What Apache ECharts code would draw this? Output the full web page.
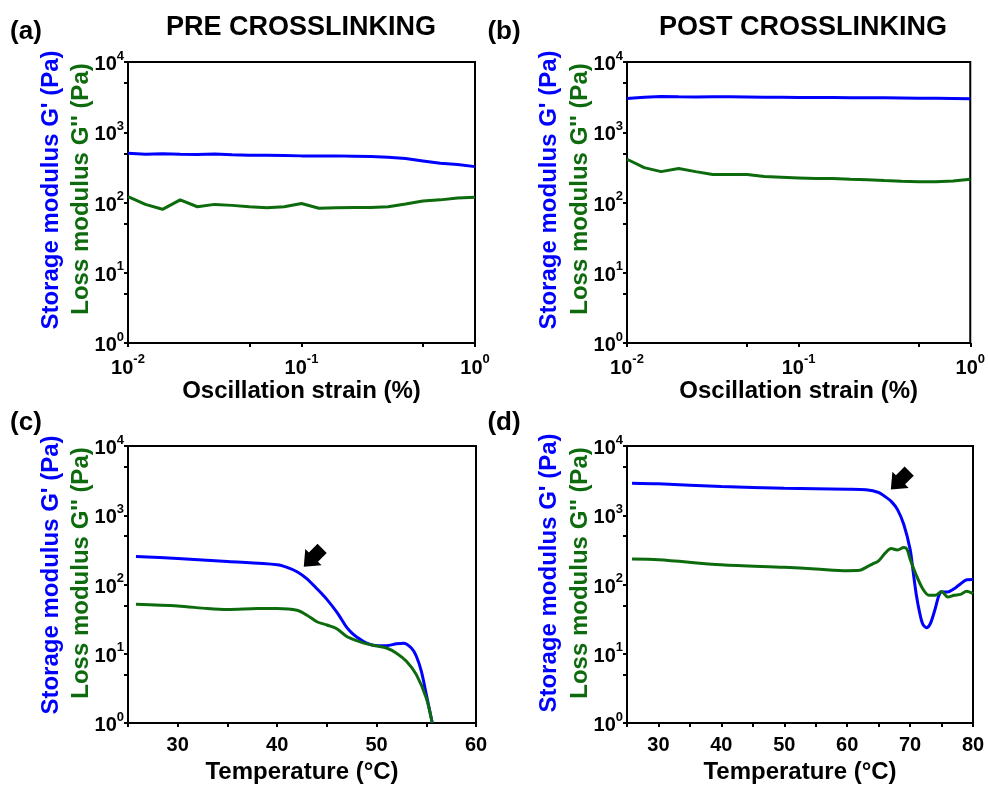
<!DOCTYPE html>
<html><head><meta charset="utf-8">
<script src="https://cdn.jsdelivr.net/npm/echarts@6/dist/echarts.min.js"></script>
<style>html,body{margin:0;padding:0;background:#fff}#c{width:988px;height:785px}</style>
</head><body><div id="c"></div>
<script>
// ---- data ----
const strain = [0.01,0.0126,0.0158,0.02,0.0251,0.0316,0.0398,0.0501,0.0631,0.0794,0.1,0.126,0.158,0.2,0.251,0.316,0.398,0.501,0.631,0.794,1];
const preStorage = [503,486,495,486,482,490,477,471,471,466,461,461,461,456,451,441,422,391,362,347,324];
const preLoss = [121,94,80,109,87,94,91,87,84,87,97,83,84,85,85,87,95,105,109,116,119];
const postStorage = [3030,3150,3240,3200,3180,3200,3200,3180,3150,3140,3130,3120,3120,3110,3100,3100,3080,3060,3040,3020,3000];
const postLoss = [413,314,275,304,275,250,250,250,234,229,224,219,219,214,210,205,201,198,198,203,214];

const preTempG1 = [25.8,30,35,40,41,42,43,44,45,46,46.5,47,47.5,48,49,50,51,52,52.7,53.5,54,54.5,55,55.6];
const preStorageT = [254,238,215,193,177,153,121,87,61,40,31,24,20,17.5,14.2,13.1,13.1,13.9,14.2,12.1,9.2,5.6,2.6,1.0];
const preTempG2 = [25.8,30,33,35,38,40,42,43,44,45,46,47,48,49,50,51,52,53,54,55,55.6];
const preLossT = [51.8,49,44.9,43.5,44.9,45,42.5,36,29,26,23,17.7,15.5,13.9,13,12.1,10.2,7.8,5,2.3,1.0];

const postTempG1 = [25.8,30,40,50,60,63,65,66,67,68,69,70,70.5,71,71.5,72,72.6,73.2,74,74.5,75,76,77,78,79,80];
const postStorageT = [2897,2840,2596,2455,2377,2330,2131,1868,1585,1205,736,324,150,70,40,27,23.8,27,45,66,78,78,87,102,117,118];
const postTempG2 = [25.8,30,40,50,55,60,62,63,64,65,66,67,68,69,69.5,70,71,72,73,74,75,76,77,78,79,80];
const postLossT = [233,228,193,177,168,158,160,177,197,220,281,330,316,341,324,233,135,87,70,70,79,66,70,72,80,74];

const yTicks = [1,5,10,50,100,500,1000,5000,10000];
const yLabels = [1,10,100,1000,10000];
const strainTicks = [0.01,0.05,0.1,0.5,1];
const strainLabels = [0.01,0.1,1];
const arrowPre = [43.6, 245];
const arrowPost = [68.4, 3200];

const titles = ['PRE CROSSLINKING','POST CROSSLINKING'];
const panelTags = ['(a)','(b)','(c)','(d)'];
const storageName = "Storage modulus G' (Pa)";
const lossName = "Loss modulus G'' (Pa)";
const strainName = 'Oscillation strain (%)';
const tempName = 'Temperature (°C)';

// ---- styling ----
const FONT = 'Liberation Sans, Arial, sans-serif';
const BLUE = '#0000ff';
const GREEN = '#0d6b0d';
const supRich = {
  b:{fontSize:20,fontWeight:'bold',fontFamily:FONT,color:'#000',lineHeight:25,verticalAlign:'bottom'},
  s:{fontSize:13,fontWeight:'bold',fontFamily:FONT,color:'#000',lineHeight:14,verticalAlign:'top'}
};
const powFmt = v => '{b|10}{s|' + Math.round(Math.log10(v)) + '}';

const grids = [
  {left:128, top:62, width:347, height:281},
  {left:627, top:62, width:346, height:281},
  {left:128, top:446, width:348, height:280},
  {left:627, top:446, width:346, height:280}
].map(g => Object.assign(g, {show:true, borderColor:'#000', borderWidth:2, containLabel:false}));

const axisLineS = {show:true, lineStyle:{color:'#000', width:2}};
const nameStyle = {fontSize:24, fontWeight:'bold', fontFamily:FONT, color:'#000'};

function yAx(i){
  return {type:'log', logBase:10, gridIndex:i, min:1, max:10000,
    axisLine:axisLineS, splitLine:{show:false},
    axisTick:{show:true, inside:false, length:4, lineStyle:{width:2,color:'#000'}, customValues:yTicks},
    axisLabel:{margin:4, formatter:powFmt, rich:supRich, customValues:yLabels}};
}
function xStrain(i){
  return {type:'log', logBase:10, gridIndex:i, min:0.01, max:1,
    axisLine:axisLineS, splitLine:{show:false},
    axisTick:{show:true, length:4, lineStyle:{width:2,color:'#000'}, customValues:strainTicks},
    axisLabel:{margin:10, formatter:powFmt, rich:supRich, customValues:strainLabels},
    name:strainName, nameLocation:'middle', nameGap:34, nameTextStyle:nameStyle};
}
function xTemp(i, max){
  return {type:'value', gridIndex:i, min:25, max:max, interval:5,
    axisLine:axisLineS, splitLine:{show:false},
    axisTick:{show:true, length:4, lineStyle:{width:2,color:'#000'}},
    axisLabel:{margin:12, fontSize:20, fontWeight:'bold', fontFamily:FONT, color:'#000',
      formatter: v => (v % 10 === 0 ? String(v) : '')},
    name:tempName, nameLocation:'middle', nameGap:37, nameTextStyle:nameStyle};
}
const pairs = (xs, ys) => xs.map((x, k) => [x, ys[k]]);
function line(i, data, color, smooth){
  return {type:'line', xAxisIndex:i, yAxisIndex:i, data:data, showSymbol:false, symbol:'none',
    smooth:smooth, lineStyle:{color:color, width:3}, itemStyle:{color:color}, animation:false, z:3};
}
const arrowPath = 'path://M8,0 L16,10 L12.5,10 L12.5,19 L3.5,19 L3.5,10 L0,10 Z';
function arrowMark(coord){
  return {symbol:arrowPath, symbolSize:[23,26], symbolRotate:135, symbolOffset:[0,0],
    itemStyle:{color:'#000'}, label:{show:false}, animation:false, data:[{coord:coord}]};
}

const series = [
  line(0, pairs(strain, preStorage), BLUE, false),
  line(0, pairs(strain, preLoss), GREEN, false),
  line(1, pairs(strain, postStorage), BLUE, false),
  line(1, pairs(strain, postLoss), GREEN, false),
  Object.assign(line(2, pairs(preTempG1, preStorageT), BLUE, 0.3), {markPoint:arrowMark(arrowPre)}),
  line(2, pairs(preTempG2, preLossT), GREEN, 0.3),
  Object.assign(line(3, pairs(postTempG1, postStorageT), BLUE, 0.3), {markPoint:arrowMark(arrowPost)}),
  line(3, pairs(postTempG2, postLossT), GREEN, 0.3)
];

// ---- text ----
const txt = (text, x, y, size, color, rot) => ({type:'text', x:x, y:y, rotation:rot||0,
  style:{text:text, fill:color, font:'bold ' + size + 'px ' + FONT, textAlign:'center', textVerticalAlign:'middle'}});
const graphic = [
  txt(titles[0], 301, 28, 27, '#000'),
  txt(titles[1], 803, 28, 27, '#000'),
  txt(panelTags[0], 26, 32, 26, '#000'),
  txt(panelTags[1], 504, 32, 26, '#000'),
  txt(panelTags[2], 26, 423, 26, '#000'),
  txt(panelTags[3], 504, 423, 26, '#000'),
  txt(storageName, 51, 190, 24, BLUE, Math.PI/2),
  txt(lossName, 81, 189, 24, GREEN, Math.PI/2),
  txt(storageName, 549, 190, 24, BLUE, Math.PI/2),
  txt(lossName, 580, 189, 24, GREEN, Math.PI/2),
  txt(storageName, 51, 575, 24, BLUE, Math.PI/2),
  txt(lossName, 81, 573, 24, GREEN, Math.PI/2),
  txt(storageName, 549, 573, 24, BLUE, Math.PI/2),
  txt(lossName, 580, 573, 24, GREEN, Math.PI/2)
];

const chart = echarts.init(document.getElementById('c'), null, {renderer:'canvas'});
chart.setOption({
  backgroundColor:'#fff',
  animation:false,
  grid:grids,
  xAxis:[xStrain(0), xStrain(1), xTemp(2, 60), xTemp(3, 80)],
  yAxis:[yAx(0), yAx(1), yAx(2), yAx(3)],
  series:series,
  graphic:graphic
});
</script></body></html>
